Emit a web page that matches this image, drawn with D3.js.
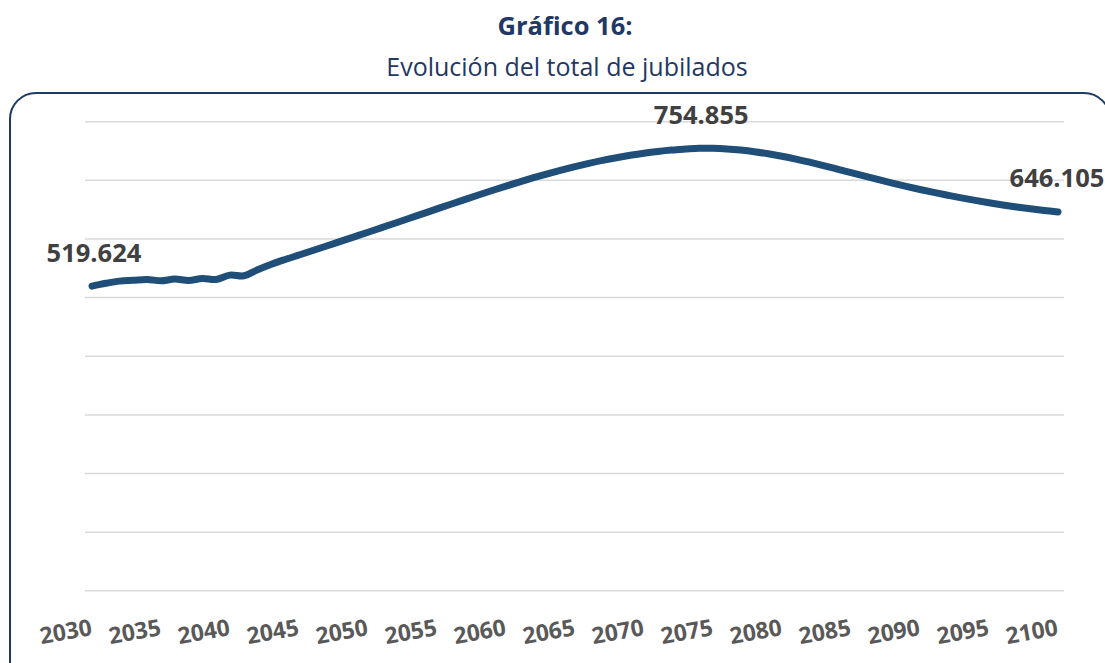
<!DOCTYPE html>
<html>
<head>
<meta charset="utf-8">
<script src="https://cdn.jsdelivr.net/npm/d3@7"></script>
<style>
  html, body { margin: 0; padding: 0; background: #fff; overflow: hidden; }
  svg { display: block; font-family: "Open Sans", sans-serif; }
</style>
</head>
<body>
<div id="chart"></div>
<script>
const width = 1105
const height = 663

// data: total de jubilados por año
const years = d3.range(2030, 2101)
const jubilados = [
  519624, 524400, 528150, 529500, 530900, 528700, 531600, 529200, 532600, 530900,
  538400, 537200, 547400, 556800, 565000, 572700, 580400, 588100, 595900, 603700,
  611500, 619400, 627300, 635300, 643300, 651300, 659300, 667200, 675000, 682700,
  690200, 697500, 704500, 711200, 717500, 723400, 728900, 734000, 738600, 742700,
  746300, 749300, 751700, 753400, 754855, 754555, 753455, 751555, 748855, 745255,
  741055, 736255, 730955, 725255, 719255, 713155, 707055, 701055, 695255, 689655,
  684355, 679355, 674655, 670055, 665755, 661755, 658055, 654655, 651555, 648705,
  646105
]
const labelYears = d3.range(2030, 2101, 5)
const yTicks = d3.range(0, 800001, 100000)
const labelled = [2030, 2074, 2100]

const data = years.map((y, i) => ({ year: y, value: jubilados[i] }))
const fmt = v => d3.format(",")(v).replace(/,/g, ".")

const svg = d3.select("#chart")
  .append("svg")
  .attr("width", width)
  .attr("height", height)

const x = d3.scaleLinear().domain([2030, 2100]).range([92, 1058])
const y = d3.scaleLinear().domain([0, 800000]).range([590.8, 121.7])

// frame
svg.append("rect")
   .attr("x", 10)
   .attr("y", 93)
   .attr("width", 1100)
   .attr("height", 600)
   .attr("rx", 26)
   .attr("fill", "none")
   .attr("stroke", "#1f3864")
   .attr("stroke-width", 2)

// titles
svg.append("text")
   .attr("x", 565)
   .attr("y", 35)
   .attr("text-anchor", "middle")
   .attr("font-size", 25.5)
   .attr("font-weight", "bold")
   .attr("fill", "#1f3864")
   .text("Gráfico 16:")

svg.append("text")
   .attr("x", 567)
   .attr("y", 76)
   .attr("text-anchor", "middle")
   .attr("font-size", 25)
   .attr("fill", "#1f3864")
   .text("Evolución del total de jubilados")

// gridlines
svg.append("g")
   .selectAll("line")
   .data(yTicks)
   .enter()
   .append("line")
   .attr("x1", 85)
   .attr("x2", 1064)
   .attr("y1", d => y(d))
   .attr("y2", d => y(d))
   .attr("stroke", "#d9d9d9")
   .attr("stroke-width", 1.5)

// x labels (rotated, end anchored at the tick)
svg.append("g")
   .selectAll("text")
   .data(labelYears)
   .enter()
   .append("text")
   .attr("transform", d => "translate(" + (x(d) + 1) + ",635) rotate(-10)")
   .attr("text-anchor", "end")
   .attr("font-size", 23)
   .attr("font-weight", "bold")
   .attr("fill", "#595959")
   .text(d => d)

// line
const line = d3.line()
  .x(d => x(d.year))
  .y(d => y(d.value))
  .curve(d3.curveCatmullRom.alpha(0.5))

svg.append("path")
   .datum(data)
   .attr("d", line)
   .attr("fill", "none")
   .attr("stroke", "#1f4e79")
   .attr("stroke-width", 7)
   .attr("stroke-linecap", "round")
   .attr("stroke-linejoin", "round")

// data labels
svg.append("g")
   .selectAll("text")
   .data(data.filter(d => labelled.includes(d.year)))
   .enter()
   .append("text")
   .attr("x", d => Math.min(x(d.year) + 2, 1057))
   .attr("y", d => y(d.value) - 24.5)
   .attr("text-anchor", "middle")
   .attr("font-size", 25.5)
   .attr("font-weight", "bold")
   .attr("fill", "#404040")
   .text(d => fmt(d.value))
</script>
</body>
</html>
